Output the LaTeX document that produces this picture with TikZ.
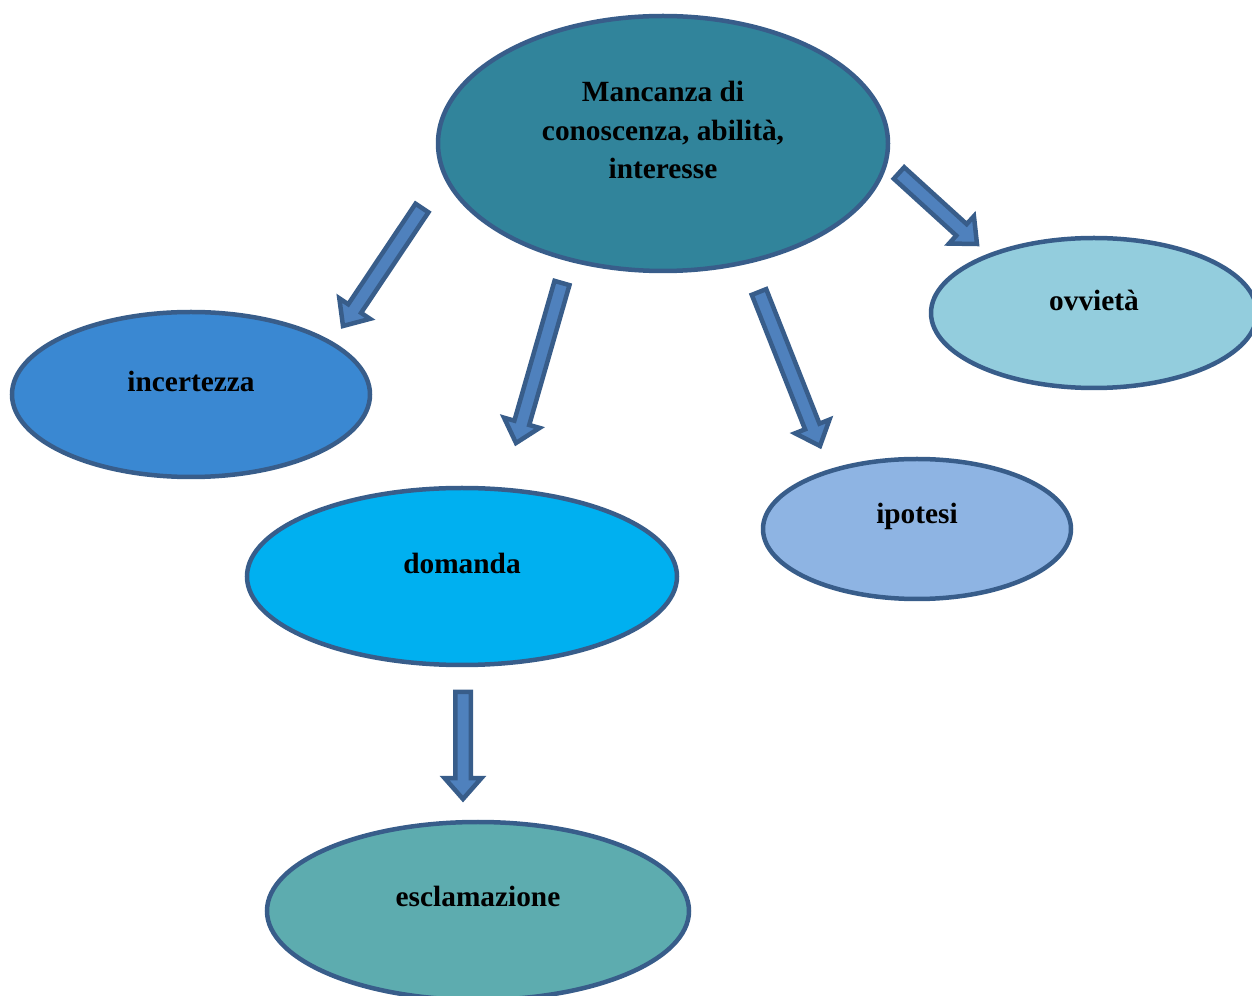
\documentclass[tikz,border=0pt]{standalone}
\usepackage{fontspec}
\setmainfont{Liberation Serif}
\usetikzlibrary{shapes.geometric,calc}
\definecolor{rim}{HTML}{385D8A}
\definecolor{shaft}{HTML}{4F81BD}
\definecolor{cTop}{HTML}{31849B}
\definecolor{cInc}{HTML}{3A88D2}
\definecolor{cDom}{HTML}{00B0F0}
\definecolor{cIpo}{HTML}{8EB4E3}
\definecolor{cOvv}{HTML}{93CDDD}
\definecolor{cEsc}{HTML}{5DACAF}
\tikzset{
	bubble/.style={
		shape = ellipse,
		draw = rim,
		line width = 0.09cm,
		inner sep = 0pt
	},
	word/.style={
		font = \bfseries\fontsize{16.7}{22}\selectfont,
		align = center,
		inner sep = 0pt
	},
	arrowbody/.style={
		draw = rim,
		fill = shaft,
		line width = 0.09cm,
		line join = miter
	},
}
\newcommand{\blockarrow}[2]{%
	\coordinate (neck) at ($(#2)!0.42cm!(#1)$);
	\draw[arrowbody] ($(#1)!0.155cm!90:(#2)$) -- ($(neck)!0.155cm!90:(#2)$)
		-- ($(neck)!0.37cm!90:(#2)$) -- (#2) -- ($(neck)!0.37cm!-90:(#2)$)
		-- ($(neck)!0.155cm!-90:(#2)$) -- ($(#1)!0.155cm!-90:(#2)$) -- cycle;
}

\begin{document}
\begin{tikzpicture}[x=0.02cm, y=-0.02cm]
    \clip (0,0) rectangle (1252,996);
    % ellipses
    \node[bubble, fill=cTop, minimum width=450*0.02cm, minimum height=255*0.02cm] (top) at (663,143.5) {};
    \node[bubble, fill=cInc, minimum width=358*0.02cm, minimum height=165*0.02cm] (inc) at (191,394.5) {};
    \node[bubble, fill=cDom, minimum width=430*0.02cm, minimum height=177*0.02cm] (dom) at (462,576.5) {};
    \node[bubble, fill=cIpo, minimum width=308*0.02cm, minimum height=140*0.02cm] (ipo) at (917,529) {};
    \node[bubble, fill=cOvv, minimum width=326*0.02cm, minimum height=150*0.02cm] (ovv) at (1094,313) {};
    \node[bubble, fill=cEsc, minimum width=422*0.02cm, minimum height=178*0.02cm] (esc) at (478,911) {};
    % texts
    \node[word] (top-t) at (663,130) {Mancanza di\\conoscenza, abilità,\\interesse};
    \node[word] (inc-t) at (191,381) {incertezza};
    \node[word] (dom-t) at (462,563) {domanda};
    \node[word] (ipo-t) at (917,516) {ipotesi};
    \node[word] (ovv-t) at (1094,300) {ovvietà};
    \node[word] (esc-t) at (478,896) {esclamazione};
    % arrows
    \coordinate (a1) at (422,208);  \coordinate (b1) at (343,326);
    \coordinate (a2) at (562,283);  \coordinate (b2) at (516,443);
    \coordinate (a3) at (759,292);  \coordinate (b3) at (820,446);
    \coordinate (a4) at (899,173);  \coordinate (b4) at (977,244);
    \coordinate (a5) at (463,692);  \coordinate (b5) at (463,799);
    \foreach \i in {1,...,5}{
      \blockarrow{a\i}{b\i}
    }
\end{tikzpicture}
\end{document}
